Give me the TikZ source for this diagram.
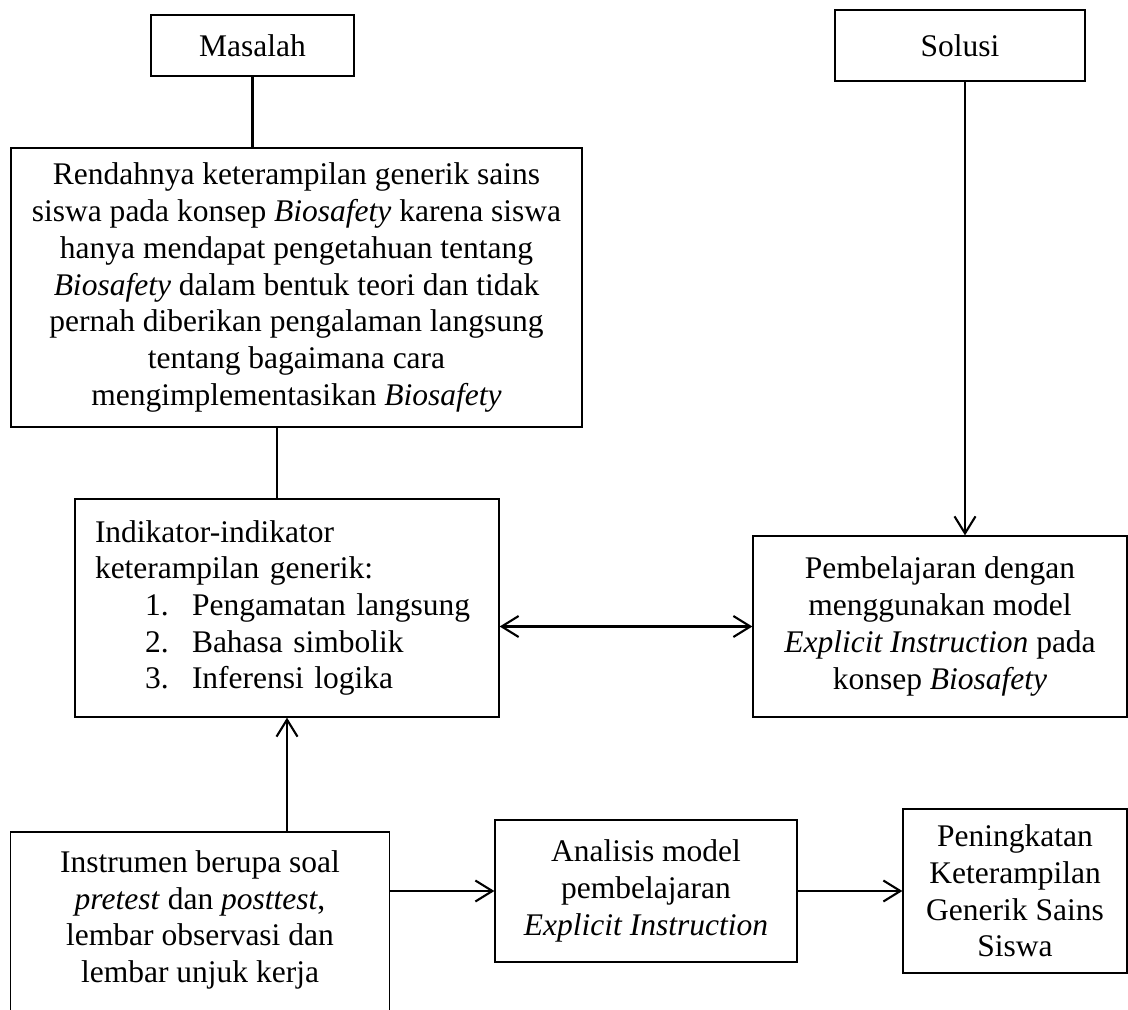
\documentclass[tikz,border=0pt]{standalone}
\usepackage{fontspec}
\setmainfont{Liberation Serif}
\usepackage{tikz}
\usetikzlibrary{arrows.meta,positioning,calc}
\definecolor{ink}{HTML}{000000}
\tikzset{
  plainbox/.style={draw=ink,line width=0.65pt,align=center,inner sep=0pt,
                   font=\fontsize{15.75pt}{18.35pt}\selectfont},
  boxline/.style={draw=ink,line width=0.65pt},
  linkline/.style={line width=1.05pt,color=ink},
  flowarr/.style={-{Straight Barb[length=8.5pt,width=10.5pt]},line width=1.05pt,color=ink},
  duoarr/.style={{Straight Barb[length=8.5pt,width=10.5pt]}-{Straight Barb[length=8.5pt,width=10.5pt]},
                 line width=1.05pt,color=ink}
}
\begin{document}
\begin{tikzpicture}[x=0.5pt,y=-0.5pt]
  \useasboundingbox (0,0) rectangle (1128,1010);
  \coordinate (pagefoot) at (0,1016);

  % left column
  \node[plainbox,minimum width=101.5pt,minimum height=30.5pt] (masalah) at (252.5,45.5) {Masalah};
  \node[plainbox,minimum width=285.5pt,minimum height=139.5pt] (masalahisi) at (296.5,287.5)
    {Rendahnya keterampilan generik sains\\
     siswa pada konsep \textit{Biosafety} karena siswa\\
     hanya mendapat pengetahuan tentang\\
     \textit{Biosafety} dalam bentuk teori dan tidak\\
     pernah diberikan pengalaman langsung\\
     tentang bagaimana cara\\
     mengimplementasikan \textit{Biosafety}};
  \node[plainbox,align=left,inner xsep=10pt,text width=192pt,minimum height=109pt] (indikator) at (287,608)
    {Indikator-indikator\\
     keterampilan generik:\\
     \hspace*{25pt}\makebox[23.5pt][l]{1.}Pengamatan langsung\\
     \hspace*{25pt}\makebox[23.5pt][l]{2.}Bahasa simbolik\\
     \hspace*{25pt}\makebox[23.5pt][l]{3.}Inferensi logika};

  % right column
  \node[plainbox,minimum width=125pt,minimum height=35.5pt] (solusi) at (960,45.5) {Solusi};
  \node[plainbox,minimum width=187pt,minimum height=90.5pt] (pembelajaran) at (940,626.5)
    {Pembelajaran dengan\\
     menggunakan model\\
     \textit{Explicit Instruction} pada\\
     konsep \textit{Biosafety}};

  % bottom row
  \node[plainbox,draw=none,anchor=north,inner ysep=9pt,minimum width=189pt] (instrumen) at (200,832)
    {Instrumen berupa soal\\
     \textit{pretest} dan \textit{posttest},\\
     lembar observasi dan\\
     lembar unjuk kerja};
  \draw[boxline] (instrumen.north west |- pagefoot) -- (instrumen.north west)
    -- (instrumen.north east) -- (instrumen.north east |- pagefoot);
  \node[plainbox,minimum width=151pt,minimum height=71pt] (analisis) at (646,891)
    {Analisis model\\
     pembelajaran\\
     \textit{Explicit Instruction}};
  \node[plainbox,minimum width=112pt,minimum height=82pt] (peningkatan) at (1015,891)
    {Peningkatan\\
     Keterampilan\\
     Generik Sains\\
     Siswa};

  % connectors
  \draw[linkline] (masalah.south) -- (masalah.south |- masalahisi.north);
  \draw[linkline] ([xshift=-5pt]indikator.north) -- ([xshift=-5pt]indikator.north |- masalahisi.south);
  \draw[flowarr] ([xshift=2.5pt]solusi.south) -- ([xshift=2.5pt]solusi.south |- pembelajaran.north);
  \draw[duoarr] (pembelajaran.west -| indikator.east) -- (pembelajaran.west);
  \draw[flowarr] (indikator.south |- instrumen.north) -- (indikator.south);
  \draw[flowarr] (instrumen.north east |- analisis.west) -- (analisis.west);
  \draw[flowarr] (analisis.east) -- (peningkatan.west);
\end{tikzpicture}
\end{document}
